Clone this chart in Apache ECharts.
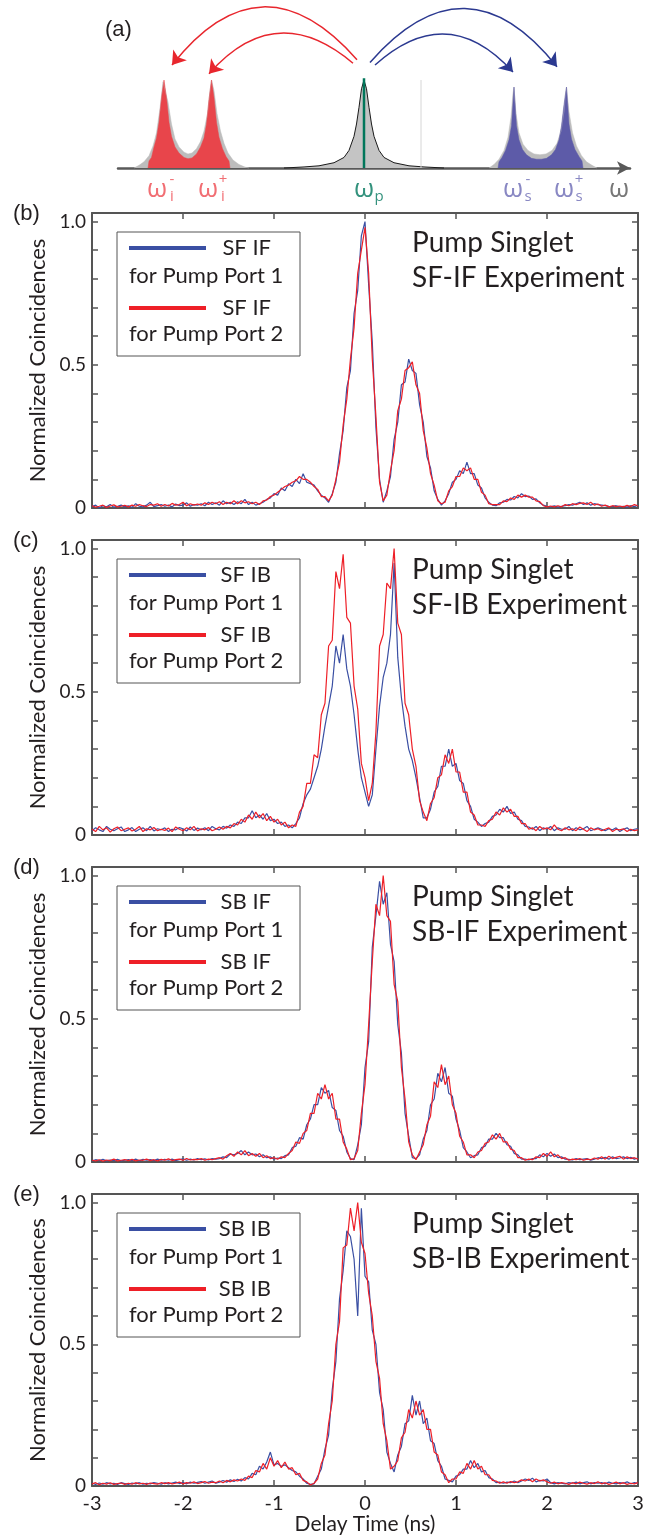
<!DOCTYPE html>
<html>
<head>
<meta charset="utf-8">
<script src="https://cdn.jsdelivr.net/npm/echarts@6/dist/echarts.min.js"></script>
<style>
  html, body { margin: 0; padding: 0; background: #fff; }
  #chart { width: 657px; height: 1536px; }
</style>
</head>
<body>
<div id="chart"></div>
<script>
// ---------- measured traces (delay in ns, normalized coincidences) ----------
const delayTime = [
  -3,-2.96,-2.92,-2.88,-2.84,-2.8,-2.76,-2.72,-2.68,-2.64,
  -2.6,-2.56,-2.52,-2.48,-2.44,-2.4,-2.36,-2.32,-2.28,-2.24,
  -2.2,-2.16,-2.12,-2.08,-2.04,-2,-1.96,-1.92,-1.88,-1.84,
  -1.8,-1.76,-1.72,-1.68,-1.64,-1.6,-1.56,-1.52,-1.48,-1.44,
  -1.4,-1.36,-1.32,-1.28,-1.24,-1.2,-1.16,-1.12,-1.08,-1.04,
  -1,-0.96,-0.92,-0.88,-0.84,-0.8,-0.76,-0.72,-0.68,-0.64,
  -0.6,-0.56,-0.52,-0.48,-0.44,-0.4,-0.36,-0.32,-0.28,-0.24,
  -0.2,-0.16,-0.12,-0.08,-0.04,0,0.04,0.08,0.12,0.16,
  0.2,0.24,0.28,0.32,0.36,0.4,0.44,0.48,0.52,0.56,
  0.6,0.64,0.68,0.72,0.76,0.8,0.84,0.88,0.92,0.96,
  1,1.04,1.08,1.12,1.16,1.2,1.24,1.28,1.32,1.36,
  1.4,1.44,1.48,1.52,1.56,1.6,1.64,1.68,1.72,1.76,
  1.8,1.84,1.88,1.92,1.96,2,2.04,2.08,2.12,2.16,
  2.2,2.24,2.28,2.32,2.36,2.4,2.44,2.48,2.52,2.56,
  2.6,2.64,2.68,2.72,2.76,2.8,2.84,2.88,2.92,2.96,3
];

const sfIfPort1 = [
  0.005,0.01,0.0,0.008,0.004,0.012,0.003,0.006,0.01,0.004,
  0.008,0.002,0.015,0.006,0.004,0.01,0.02,0.005,0.008,0.012,
  0.006,0.01,0.004,0.014,0.008,0.01,0.018,0.006,0.012,0.01,
  0.015,0.008,0.02,0.012,0.018,0.01,0.025,0.015,0.02,0.012,
  0.022,0.015,0.03,0.012,0.02,0.01,0.015,0.02,0.03,0.035,
  0.05,0.045,0.07,0.06,0.085,0.075,0.1,0.085,0.12,0.09,
  0.085,0.08,0.06,0.045,0.035,0.02,0.05,0.09,0.19,0.27,
  0.42,0.48,0.68,0.76,0.95,1.0,0.78,0.58,0.28,0.1,
  0.02,0.06,0.11,0.24,0.3,0.43,0.44,0.52,0.48,0.47,
  0.36,0.3,0.18,0.14,0.06,0.03,0.01,0.025,0.05,0.09,
  0.1,0.13,0.12,0.16,0.12,0.12,0.08,0.07,0.035,0.02,
  0.01,0.008,0.018,0.02,0.03,0.028,0.04,0.035,0.05,0.04,
  0.042,0.03,0.032,0.018,0.01,0.006,0.004,0.008,0.003,0.006,
  0.008,0.012,0.01,0.015,0.02,0.012,0.018,0.01,0.015,0.012,
  0.01,0.008,0.006,0.005,0.008,0.004,0.006,0.003,0.008,0.005,0.01
];
const sfIfPort2 = [
  0.008,0.003,0.006,0.01,0.002,0.007,0.011,0.004,0.006,0.009,
  0.004,0.01,0.006,0.012,0.008,0.005,0.012,0.01,0.015,0.006,
  0.012,0.007,0.016,0.01,0.012,0.02,0.008,0.015,0.01,0.014,
  0.01,0.018,0.012,0.02,0.015,0.022,0.012,0.02,0.015,0.025,
  0.015,0.025,0.018,0.022,0.015,0.02,0.012,0.025,0.028,0.04,
  0.045,0.055,0.065,0.075,0.08,0.09,0.095,0.11,0.1,0.1,
  0.09,0.075,0.065,0.04,0.04,0.025,0.045,0.1,0.16,0.29,
  0.38,0.52,0.63,0.82,0.9,0.98,0.82,0.52,0.32,0.09,
  0.025,0.045,0.13,0.2,0.34,0.38,0.48,0.49,0.51,0.43,
  0.4,0.27,0.21,0.12,0.08,0.025,0.015,0.02,0.06,0.075,
  0.11,0.11,0.14,0.13,0.14,0.1,0.1,0.055,0.045,0.015,
  0.012,0.012,0.012,0.025,0.022,0.035,0.03,0.045,0.038,0.045,
  0.038,0.038,0.025,0.022,0.008,0.004,0.007,0.004,0.008,0.004,
  0.012,0.008,0.015,0.012,0.016,0.018,0.012,0.02,0.01,0.014,
  0.006,0.01,0.004,0.008,0.005,0.007,0.004,0.009,0.005,0.012,0.008
];

const sfIbPort1 = [
  0.015,0.025,0.018,0.012,0.03,0.02,0.015,0.022,0.028,0.012,
  0.018,0.026,0.012,0.02,0.025,0.015,0.03,0.014,0.022,0.018,
  0.025,0.012,0.02,0.018,0.026,0.022,0.014,0.028,0.016,0.024,
  0.018,0.025,0.015,0.03,0.022,0.018,0.03,0.024,0.035,0.03,
  0.045,0.04,0.06,0.06,0.085,0.06,0.07,0.055,0.075,0.05,
  0.055,0.04,0.045,0.03,0.035,0.025,0.04,0.06,0.11,0.14,
  0.16,0.2,0.24,0.3,0.38,0.45,0.52,0.66,0.6,0.7,
  0.58,0.52,0.42,0.3,0.2,0.15,0.1,0.14,0.3,0.45,
  0.55,0.6,0.7,0.95,0.62,0.48,0.38,0.3,0.26,0.2,
  0.13,0.06,0.06,0.09,0.15,0.17,0.24,0.24,0.3,0.24,
  0.25,0.19,0.18,0.12,0.1,0.055,0.045,0.03,0.04,0.045,
  0.065,0.07,0.09,0.08,0.1,0.075,0.08,0.055,0.05,0.03,
  0.028,0.02,0.03,0.015,0.025,0.02,0.03,0.015,0.025,0.02,
  0.02,0.03,0.015,0.025,0.018,0.022,0.03,0.015,0.02,0.025,
  0.02,0.015,0.022,0.018,0.025,0.012,0.02,0.025,0.015,0.02,0.022
];
const sfIbPort2 = [
  0.02,0.012,0.03,0.018,0.025,0.01,0.022,0.028,0.015,0.02,
  0.025,0.014,0.02,0.03,0.012,0.022,0.018,0.026,0.015,0.02,
  0.016,0.024,0.012,0.028,0.02,0.015,0.025,0.018,0.03,0.014,
  0.022,0.018,0.026,0.015,0.02,0.028,0.02,0.03,0.025,0.04,
  0.035,0.055,0.045,0.07,0.055,0.08,0.06,0.075,0.05,0.065,
  0.045,0.055,0.035,0.045,0.025,0.035,0.03,0.08,0.1,0.18,
  0.18,0.28,0.27,0.42,0.46,0.66,0.68,0.92,0.86,0.98,
  0.76,0.74,0.52,0.44,0.25,0.2,0.12,0.18,0.36,0.66,
  0.7,0.88,0.86,1.0,0.74,0.7,0.46,0.42,0.3,0.24,
  0.12,0.08,0.05,0.11,0.13,0.2,0.21,0.28,0.25,0.3,
  0.22,0.22,0.15,0.15,0.08,0.07,0.035,0.035,0.03,0.05,
  0.055,0.08,0.07,0.095,0.08,0.09,0.065,0.065,0.04,0.04,
  0.02,0.025,0.015,0.03,0.02,0.025,0.018,0.035,0.02,0.015,
  0.025,0.018,0.022,0.015,0.028,0.02,0.012,0.025,0.018,0.022,
  0.015,0.02,0.025,0.012,0.02,0.018,0.022,0.012,0.02,0.015,0.018
];

const sbIfPort1 = [
  0.004,0.008,0.005,0.009,0.004,0.007,0.005,0.009,0.004,0.006,
  0.008,0.005,0.01,0.004,0.009,0.006,0.008,0.005,0.01,0.006,
  0.009,0.006,0.01,0.005,0.008,0.011,0.006,0.01,0.007,0.012,
  0.008,0.011,0.007,0.012,0.01,0.012,0.018,0.015,0.028,0.025,
  0.03,0.04,0.025,0.035,0.025,0.028,0.018,0.025,0.015,0.018,
  0.01,0.014,0.012,0.022,0.025,0.05,0.055,0.085,0.08,0.13,
  0.15,0.2,0.2,0.26,0.24,0.25,0.19,0.18,0.11,0.09,
  0.035,0.012,0.008,0.06,0.13,0.33,0.42,0.75,0.86,0.98,
  0.9,0.94,0.76,0.7,0.48,0.38,0.17,0.09,0.015,0.012,
  0.025,0.08,0.11,0.2,0.22,0.31,0.28,0.33,0.24,0.23,
  0.15,0.11,0.05,0.035,0.015,0.022,0.025,0.05,0.055,0.08,
  0.08,0.1,0.085,0.085,0.06,0.055,0.03,0.025,0.01,0.01,
  0.007,0.012,0.012,0.025,0.018,0.03,0.02,0.028,0.015,0.018,
  0.01,0.009,0.007,0.012,0.008,0.01,0.012,0.006,0.01,0.015,
  0.012,0.016,0.01,0.018,0.012,0.014,0.018,0.012,0.016,0.01,0.014
];
const sbIfPort2 = [
  0.006,0.004,0.008,0.003,0.007,0.005,0.01,0.004,0.006,0.008,
  0.005,0.009,0.004,0.007,0.006,0.01,0.005,0.008,0.004,0.009,
  0.006,0.011,0.005,0.008,0.01,0.006,0.012,0.007,0.009,0.008,
  0.012,0.006,0.01,0.008,0.012,0.015,0.01,0.022,0.03,0.02,
  0.035,0.025,0.04,0.022,0.03,0.02,0.03,0.015,0.022,0.012,
  0.015,0.01,0.018,0.015,0.03,0.04,0.07,0.065,0.1,0.11,
  0.17,0.17,0.24,0.22,0.27,0.22,0.24,0.15,0.15,0.07,
  0.045,0.008,0.012,0.04,0.17,0.27,0.48,0.7,0.9,0.86,
  1.0,0.86,0.84,0.62,0.56,0.33,0.22,0.07,0.025,0.008,
  0.035,0.06,0.13,0.16,0.28,0.26,0.34,0.27,0.3,0.2,
  0.17,0.09,0.07,0.025,0.025,0.015,0.035,0.04,0.065,0.07,
  0.095,0.08,0.1,0.07,0.07,0.045,0.04,0.015,0.015,0.006,
  0.01,0.008,0.018,0.015,0.03,0.02,0.035,0.018,0.025,0.012,
  0.015,0.006,0.01,0.008,0.012,0.006,0.01,0.008,0.014,0.01,
  0.018,0.01,0.02,0.012,0.016,0.02,0.01,0.018,0.012,0.015,0.01
];

const sbIbPort1 = [
  0.01,0.006,0.011,0.007,0.012,0.008,0.01,0.006,0.012,0.009,
  0.006,0.011,0.008,0.012,0.007,0.01,0.008,0.012,0.01,0.007,
  0.012,0.008,0.011,0.014,0.009,0.012,0.008,0.014,0.01,0.013,
  0.016,0.01,0.014,0.018,0.01,0.014,0.02,0.014,0.022,0.016,
  0.024,0.018,0.03,0.025,0.045,0.04,0.07,0.06,0.085,0.12,
  0.075,0.08,0.07,0.075,0.065,0.055,0.05,0.035,0.025,0.01,
  0.006,0.008,0.035,0.06,0.13,0.18,0.34,0.44,0.66,0.76,
  0.9,0.88,0.8,0.6,0.98,0.74,0.72,0.55,0.5,0.33,
  0.27,0.12,0.08,0.05,0.11,0.14,0.22,0.23,0.32,0.25,
  0.3,0.22,0.24,0.16,0.15,0.09,0.07,0.025,0.02,0.015,
  0.035,0.04,0.06,0.06,0.09,0.065,0.08,0.05,0.055,0.03,
  0.025,0.012,0.014,0.01,0.014,0.012,0.018,0.012,0.018,0.025,
  0.02,0.028,0.015,0.02,0.018,0.025,0.012,0.008,0.012,0.01,
  0.008,0.012,0.01,0.014,0.008,0.012,0.015,0.008,0.012,0.01,
  0.012,0.008,0.014,0.01,0.008,0.012,0.01,0.015,0.008,0.012,0.01
];
const sbIbPort2 = [
  0.008,0.012,0.005,0.01,0.007,0.012,0.006,0.009,0.011,0.006,
  0.01,0.007,0.012,0.008,0.01,0.006,0.011,0.009,0.007,0.012,
  0.009,0.012,0.008,0.01,0.014,0.008,0.012,0.01,0.015,0.009,
  0.012,0.016,0.01,0.014,0.012,0.018,0.012,0.02,0.015,0.022,
  0.018,0.025,0.02,0.035,0.03,0.055,0.05,0.08,0.06,0.1,
  0.07,0.09,0.065,0.085,0.06,0.065,0.04,0.045,0.02,0.015,
  0.004,0.01,0.025,0.08,0.11,0.22,0.3,0.5,0.58,0.84,
  0.85,0.98,0.9,1.0,0.86,0.82,0.68,0.6,0.44,0.38,
  0.22,0.16,0.06,0.07,0.09,0.17,0.19,0.27,0.24,0.3,
  0.25,0.27,0.2,0.2,0.12,0.11,0.05,0.04,0.012,0.025,
  0.025,0.05,0.045,0.08,0.06,0.09,0.06,0.07,0.04,0.04,
  0.02,0.018,0.01,0.015,0.01,0.016,0.012,0.015,0.022,0.018,
  0.025,0.015,0.025,0.018,0.022,0.015,0.01,0.014,0.008,0.012,
  0.01,0.006,0.012,0.008,0.014,0.01,0.007,0.012,0.009,0.015,
  0.008,0.012,0.006,0.01,0.014,0.008,0.012,0.006,0.01,0.008,0.012
];

// ---------- panel (a) schematic spectrum (relative frequency, relative intensity) ----------
const idlerGray = [[-4.6,0],[-4.5,0.03],[-4.4,0.07],[-4.3,0.14],[-4.22,0.25],[-4.15,0.4],[-4.08,0.68],[-4.02,0.98],[-3.98,1.0],[-3.92,0.75],[-3.85,0.5],[-3.78,0.33],[-3.7,0.24],[-3.6,0.18],[-3.52,0.16],[-3.44,0.17],[-3.35,0.22],[-3.27,0.3],[-3.2,0.42],[-3.13,0.62],[-3.08,0.88],[-3.05,1.0],[-3.0,0.88],[-2.94,0.62],[-2.87,0.42],[-2.8,0.28],[-2.72,0.17],[-2.62,0.09],[-2.5,0.04],[-2.38,0.01],[-2.3,0]];
const idlerRed = [[-4.32,0],[-4.3,0.08],[-4.25,0.12],[-4.2,0.24],[-4.15,0.34],[-4.1,0.52],[-4.05,0.8],[-4.0,1.0],[-3.95,0.8],[-3.9,0.52],[-3.85,0.36],[-3.78,0.24],[-3.7,0.17],[-3.6,0.12],[-3.52,0.105],[-3.44,0.115],[-3.35,0.16],[-3.27,0.24],[-3.2,0.34],[-3.15,0.5],[-3.1,0.78],[-3.05,1.0],[-3.0,0.8],[-2.95,0.52],[-2.9,0.35],[-2.83,0.22],[-2.76,0.13],[-2.7,0.08],[-2.68,0]];
const pumpGray = [[-1.6,0],[-1.2,0.012],[-0.9,0.025],[-0.6,0.06],[-0.4,0.12],[-0.3,0.2],[-0.2,0.36],[-0.15,0.5],[-0.1,0.69],[-0.05,0.9],[0,1.0],[0.05,0.9],[0.1,0.69],[0.15,0.5],[0.2,0.36],[0.3,0.2],[0.4,0.12],[0.6,0.06],[0.9,0.025],[1.2,0.012],[1.6,0]];
const signalGray = [[2.5,0],[2.6,0.04],[2.7,0.1],[2.8,0.2],[2.88,0.35],[2.94,0.58],[2.98,0.85],[3.0,0.92],[3.04,0.62],[3.1,0.4],[3.18,0.27],[3.28,0.2],[3.4,0.16],[3.52,0.15],[3.64,0.16],[3.76,0.2],[3.86,0.28],[3.94,0.42],[4.0,0.65],[4.03,0.85],[4.05,0.92],[4.1,0.64],[4.17,0.4],[4.25,0.25],[4.35,0.14],[4.45,0.07],[4.56,0.03],[4.66,0]];
const signalBlue = [[2.68,0],[2.7,0.07],[2.76,0.12],[2.83,0.2],[2.9,0.32],[2.95,0.48],[3.0,0.92],[3.05,0.48],[3.1,0.32],[3.17,0.21],[3.25,0.15],[3.35,0.11],[3.45,0.1],[3.55,0.1],[3.65,0.11],[3.75,0.15],[3.83,0.21],[3.9,0.32],[3.95,0.48],[4.0,0.72],[4.05,0.92],[4.1,0.5],[4.15,0.33],[4.22,0.21],[4.3,0.13],[4.36,0.08],[4.38,0]];
const pumpLine = [[0,0],[0,1.02]];
const centerMark = [[1.14,0],[1.14,1.0]];
// arrows: [start, end, curveness]
const idlerArrows = [[[-0.14,1.23],[-3.84,1.17],-0.6],[[-0.22,1.19],[-3.1,1.07],-0.49]];
const signalArrows = [[[0.22,1.17],[2.98,1.09],0.5],[[0.12,1.2],[3.86,1.15],0.6]];

const omegaPos = [-4.14, -3.12, 0, 2.98, 4.0, 5.1];
const omegaSub = ['i', 'i', 'p', 's', 's', ''];
const omegaSup = ['-', '+', '', '-', '+', ''];
const omegaColor = ['#ee4a50', '#ee4a50', '#00775c', '#6c6ab4', '#6c6ab4', '#555555'];

// ---------- panel text ----------
const panelLetters = ['(b)', '(c)', '(d)', '(e)'];
const legendLabels = ['SF IF', 'SF IB', 'SB IF', 'SB IB'];
const experimentNames = ['SF-IF Experiment', 'SF-IB Experiment', 'SB-IF Experiment', 'SB-IB Experiment'];
const portNames = ['for Pump Port 1', 'for Pump Port 2'];
const yTickValues = [0, 0.5, 1];
const yTickLabels = ['0', '0.5', '1.0'];

const port1Traces = [sfIfPort1, sfIbPort1, sbIfPort1, sbIbPort1];
const port2Traces = [sfIfPort2, sfIbPort2, sbIfPort2, sbIbPort2];

// ---------- layout / style ----------
const BLUE = '#3a4fa3';
const RED = '#ee1f27';
const TEXT = '#231f20';
const AXIS = '#555555';
const panelTops = [213, 540, 867, 1194];
const panelH = 295;
const SCH_UNIT = 88; // px per intensity unit in panel (a)
const SCH_BASE = 168;

const chart = echarts.init(document.getElementById('chart'), null, { renderer: 'canvas' });

const grids = [{ left: 118, right: 27, top: SCH_BASE - 1.9 * SCH_UNIT, height: 2.3 * SCH_UNIT }];
const xAxes = [{
  type: 'value', gridIndex: 0, min: -4.92, max: 5.32,
  axisLine: { show: true, onZero: true, symbol: ['none', 'arrow'], symbolSize: [10, 13], lineStyle: { color: '#595959', width: 2.5 } },
  axisTick: { show: false }, axisLabel: { show: false }, splitLine: { show: false }
}];
const yAxes = [{ type: 'value', gridIndex: 0, min: -0.4, max: 1.9, show: false }];
const series = [];
const titles = [{
  text: '(a)', left: 105, top: 18, padding: 0,
  textStyle: { fontFamily: 'Liberation Sans', fontSize: 22, fontWeight: 'normal', color: TEXT, lineHeight: 24 }
}];
const legends = [];

// schematic peaks
function area(data, fill, line, lw) {
  return {
    type: 'line', xAxisIndex: 0, yAxisIndex: 0, data, symbol: 'none', silent: true,
    lineStyle: { color: line, width: lw }, areaStyle: { color: fill, opacity: 1 }
  };
}
series.push(area(idlerGray, '#bdbdbd', '#bdbdbd', 0.5));
series.push(area(idlerRed, '#e8454b', '#e8454b', 0.5));
series.push(area(signalGray, '#bdbdbd', '#bdbdbd', 0.5));
series.push(area(signalBlue, '#5d5ba8', '#5d5ba8', 0.5));
series.push(area(pumpGray, '#c4c4c4', '#1a1a1a', 1));
series.push({ type: 'line', xAxisIndex: 0, yAxisIndex: 0, data: centerMark, symbol: 'none', silent: true, lineStyle: { color: '#d6d6d6', width: 1 } });
series.push({ type: 'line', xAxisIndex: 0, yAxisIndex: 0, data: pumpLine, symbol: 'none', silent: true, lineStyle: { color: '#00765a', width: 2.5 } });

function arrows(list, color) {
  list.forEach(a => {
    series.push({
      type: 'lines', coordinateSystem: 'cartesian2d', xAxisIndex: 0, yAxisIndex: 0, silent: true,
      symbol: ['none', 'arrow'], symbolSize: 13,
      lineStyle: { color, width: 1.5, opacity: 1, curveness: a[2] },
      data: [{ coords: [a[0], a[1]] }]
    });
  });
}
arrows(idlerArrows, '#e8262d');
arrows(signalArrows, '#2b3990');

// omega labels
function omegaSeries(texts, offset, size, family) {
  return {
    type: 'scatter', xAxisIndex: 0, yAxisIndex: 0, silent: true, symbolSize: 1,
    itemStyle: { color: 'rgba(0,0,0,0)' },
    data: omegaPos.map((x, k) => ({
      value: [x, -0.25],
      label: { show: true, position: 'inside', offset, formatter: texts[k], color: omegaColor[k], fontSize: size, fontFamily: family }
    }))
  };
}
series.push(omegaSeries(omegaPos.map(() => 'ω'), [0, 0], 26, 'Open Sans'));
series.push(omegaSeries(omegaSub, [15, 7], 15, 'Open Sans'));
series.push(omegaSeries(omegaSup, [15, -10], 15, 'Open Sans'));

// data panels
function yLabel(v) {
  for (let k = 0; k < yTickValues.length; k++) {
    if (Math.abs(v - yTickValues[k]) < 1e-6) return yTickLabels[k];
  }
  return '';
}
const lineAxis = { show: true, onZero: false, lineStyle: { color: AXIS, width: 2 } };
const tickIn = { show: true, inside: true, length: 6, lineStyle: { color: AXIS, width: 1.5 } };

panelTops.forEach((top, i) => {
  const last = i === panelTops.length - 1;
  grids.push({ left: 92, right: 19, top, height: panelH });
  const gi = i + 1;
  xAxes.push({
    type: 'value', gridIndex: gi, min: -3, max: 3, interval: 1, position: 'bottom',
    axisLine: lineAxis, axisTick: tickIn, splitLine: { show: false },
    axisLabel: { show: last, margin: 7, fontFamily: 'Lato', fontSize: 20, color: TEXT },
    name: last ? 'Delay Time (ns)' : '', nameLocation: 'middle', nameGap: 27,
    nameTextStyle: { fontFamily: 'Lato', fontSize: 21, color: TEXT }
  });
  xAxes.push({
    type: 'value', gridIndex: gi, min: -3, max: 3, interval: 1, position: 'top',
    axisLine: lineAxis, axisTick: tickIn, axisLabel: { show: false }, splitLine: { show: false }
  });
  yAxes.push({
    type: 'value', gridIndex: gi, min: 0, max: 1.03, interval: 0.1, position: 'left',
    name: 'Normalized Coincidences', nameLocation: 'middle', nameGap: 42, nameRotate: 90,
    nameTextStyle: { fontFamily: 'Lato', fontSize: 22, color: TEXT },
    axisLine: lineAxis, axisTick: tickIn, splitLine: { show: false },
    axisLabel: { margin: 6, fontFamily: 'Lato', fontSize: 19, color: TEXT, formatter: yLabel }
  });
  yAxes.push({
    type: 'value', gridIndex: gi, min: 0, max: 1.03, interval: 0.1, position: 'right',
    axisLine: lineAxis, axisTick: tickIn, axisLabel: { show: false }, splitLine: { show: false }
  });

  const n1 = legendLabels[i] + ' ' + portNames[0];
  const n2 = legendLabels[i] + ' ' + portNames[1];
  const xi = 1 + 2 * i, yi = 1 + 2 * i;
  series.push({
    name: n1, type: 'line', xAxisIndex: xi, yAxisIndex: yi, symbol: 'none', silent: true,
    data: delayTime.map((t, k) => [t, port1Traces[i][k]]),
    lineStyle: { color: BLUE, width: 1.2 }, itemStyle: { color: BLUE }
  });
  series.push({
    name: n2, type: 'line', xAxisIndex: xi, yAxisIndex: yi, symbol: 'none', silent: true,
    data: delayTime.map((t, k) => [t, port2Traces[i][k]]),
    lineStyle: { color: RED, width: 1.2 }, itemStyle: { color: RED }
  });

  legends.push({
    data: [n1, n2], left: 117, top: top + 19, orient: 'vertical',
    padding: [5, 29, 37, 12], itemGap: 38, itemWidth: 77, itemHeight: 4, icon: 'rect',
    borderColor: '#555', borderWidth: 1, selectedMode: false,
    formatter: () => '{n|' + legendLabels[i] + '}',
    textStyle: { rich: { n: { width: 60, align: 'right', fontFamily: 'Lato', fontSize: 22, color: TEXT, lineHeight: 20 } } }
  });

  const txt = { fontFamily: 'Lato', fontWeight: 'normal', color: TEXT };
  titles.push({ text: panelLetters[i], left: 13, top: top - 11, padding: 0,
    textStyle: { fontFamily: 'Liberation Sans', fontSize: 22, fontWeight: 'normal', color: TEXT, lineHeight: 24 } });
  titles.push({ text: 'Pump Singlet\n' + experimentNames[i], left: 412, top: top + 12, padding: 0,
    textStyle: Object.assign({ fontSize: 28, lineHeight: 35 }, txt) });
  titles.push({ text: portNames[0], left: 129, top: top + 51, padding: 0,
    textStyle: Object.assign({ fontSize: 22, lineHeight: 24 }, txt) });
  titles.push({ text: portNames[1], left: 129, top: top + 109, padding: 0,
    textStyle: Object.assign({ fontSize: 22, lineHeight: 24 }, txt) });
});

chart.setOption({
  animation: false,
  backgroundColor: '#ffffff',
  textStyle: { fontFamily: 'Lato' },
  title: titles,
  legend: legends,
  grid: grids,
  xAxis: xAxes,
  yAxis: yAxes,
  series
});
</script>
</body>
</html>
